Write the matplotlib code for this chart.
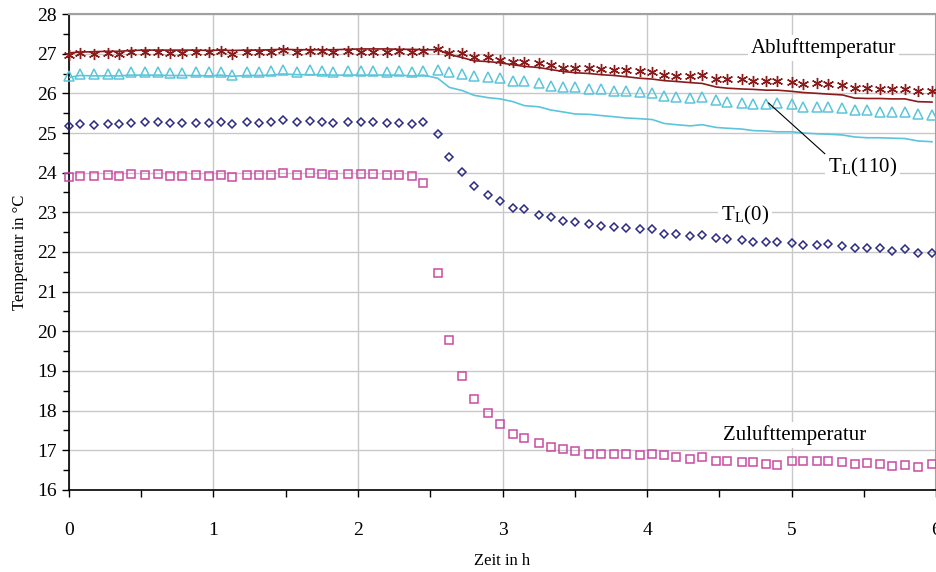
import numpy as np
import matplotlib
matplotlib.use("Agg")
import matplotlib.pyplot as plt
from matplotlib.ticker import MultipleLocator

plt.rcParams['font.family'] = ['Liberation Serif', 'DejaVu Serif']
plt.rcParams['mathtext.fontset'] = 'stix'

# Zeitpunkte in h
zeit = [0.0, 0.076, 0.175, 0.268, 0.348, 0.427, 0.528, 0.616, 0.699, 0.780,
        0.879, 0.969, 1.050, 1.128, 1.230, 1.317, 1.398, 1.479, 1.578, 1.668,
        1.751, 1.830, 1.931, 2.021, 2.102, 2.203, 2.282, 2.372, 2.452, 2.552,
        2.632, 2.722, 2.803, 2.902, 2.983, 3.073, 3.151, 3.253, 3.334, 3.421,
        3.502, 3.601, 3.682, 3.772, 3.853, 3.952, 4.035, 4.120, 4.201, 4.300,
        4.381, 4.478, 4.556, 4.655, 4.736, 4.824, 4.902, 5.003, 5.082, 5.174,
        5.255, 5.352, 5.437, 5.524, 5.612, 5.697, 5.785, 5.875, 5.972]

# Messwerte
abluft = [26.97, 27.01, 26.98, 27.02, 26.99, 27.05, 27.05, 27.05, 27.02, 27.02,
          27.03, 27.03, 27.07, 26.99, 27.05, 27.03, 27.03, 27.09, 27.05, 27.07,
          27.07, 27.03, 27.06, 27.05, 27.05, 27.05, 27.07, 27.03, 27.07, 27.11,
          27.02, 27.02, 26.91, 26.91, 26.84, 26.78, 26.80, 26.77, 26.71, 26.65,
          26.65, 26.63, 26.61, 26.59, 26.59, 26.57, 26.55, 26.46, 26.44, 26.44,
          26.46, 26.35, 26.35, 26.35, 26.32, 26.32, 26.32, 26.29, 26.24, 26.25,
          26.24, 26.21, 26.13, 26.13, 26.10, 26.10, 26.10, 26.07, 26.07]

tl110 = [26.44, 26.50, 26.49, 26.50, 26.49, 26.55, 26.55, 26.55, 26.52, 26.52,
         26.55, 26.55, 26.55, 26.46, 26.55, 26.55, 26.56, 26.59, 26.55, 26.59,
         26.57, 26.53, 26.56, 26.56, 26.56, 26.55, 26.57, 26.53, 26.57, 26.59,
         26.55, 26.50, 26.44, 26.42, 26.38, 26.31, 26.31, 26.25, 26.19, 26.15,
         26.15, 26.11, 26.10, 26.07, 26.07, 26.04, 26.00, 25.93, 25.92, 25.89,
         25.92, 25.83, 25.79, 25.75, 25.73, 25.72, 25.75, 25.72, 25.66, 25.66,
         25.66, 25.62, 25.58, 25.58, 25.54, 25.54, 25.54, 25.48, 25.45]

tl0 = [25.18, 25.23, 25.20, 25.23, 25.22, 25.26, 25.29, 25.27, 25.24, 25.26,
       25.24, 25.24, 25.27, 25.23, 25.27, 25.24, 25.27, 25.33, 25.27, 25.30,
       25.29, 25.24, 25.28, 25.29, 25.29, 25.26, 25.26, 25.23, 25.27, 24.97,
       24.40, 24.01, 23.66, 23.44, 23.29, 23.12, 23.08, 22.93, 22.87, 22.78,
       22.75, 22.71, 22.66, 22.62, 22.60, 22.58, 22.57, 22.45, 22.45, 22.41,
       22.43, 22.35, 22.32, 22.29, 22.24, 22.25, 22.24, 22.22, 22.18, 22.18,
       22.19, 22.15, 22.09, 22.09, 22.09, 22.03, 22.07, 21.97, 21.98]

zuluft = [23.90, 23.92, 23.92, 23.94, 23.92, 23.97, 23.94, 23.97, 23.92, 23.92,
          23.94, 23.92, 23.94, 23.90, 23.94, 23.94, 23.94, 24.00, 23.94, 23.98,
          23.97, 23.94, 23.97, 23.97, 23.97, 23.94, 23.94, 23.92, 23.73, 21.46,
          19.78, 18.88, 18.29, 17.93, 17.66, 17.41, 17.32, 17.19, 17.09, 17.03,
          16.99, 16.91, 16.90, 16.90, 16.90, 16.87, 16.90, 16.88, 16.83, 16.77,
          16.84, 16.74, 16.73, 16.70, 16.70, 16.65, 16.63, 16.73, 16.73, 16.73,
          16.74, 16.70, 16.65, 16.67, 16.65, 16.61, 16.63, 16.57, 16.65]

# Simulation (Linien)
abluft_sim = [27.02, 27.04, 27.05, 27.06, 27.06, 27.08, 27.09, 27.09, 27.09, 27.09,
              27.09, 27.08, 27.09, 27.08, 27.09, 27.09, 27.10, 27.11, 27.10, 27.10,
              27.10, 27.10, 27.11, 27.12, 27.12, 27.12, 27.11, 27.11, 27.10, 27.10,
              26.98, 26.90, 26.82, 26.80, 26.77, 26.72, 26.68, 26.65, 26.60, 26.55,
              26.52, 26.50, 26.47, 26.45, 26.42, 26.38, 26.36, 26.32, 26.30, 26.27,
              26.25, 26.16, 26.13, 26.11, 26.10, 26.08, 26.08, 26.05, 26.02, 26.00,
              25.98, 25.96, 25.88, 25.87, 25.87, 25.86, 25.86, 25.79, 25.78]

tl110_sim = [26.40, 26.45, 26.44, 26.44, 26.44, 26.46, 26.46, 26.46, 26.45, 26.45,
             26.45, 26.44, 26.46, 26.43, 26.45, 26.45, 26.46, 26.49, 26.47, 26.47,
             26.47, 26.46, 26.46, 26.46, 26.46, 26.46, 26.46, 26.44, 26.46, 26.38,
             26.15, 26.07, 25.95, 25.89, 25.86, 25.79, 25.69, 25.66, 25.58, 25.53,
             25.48, 25.47, 25.44, 25.41, 25.38, 25.36, 25.34, 25.24, 25.21, 25.18,
             25.21, 25.14, 25.12, 25.10, 25.06, 25.05, 25.03, 25.03, 25.00, 24.98,
             24.97, 24.95, 24.90, 24.88, 24.88, 24.87, 24.86, 24.80, 24.78]

c_ab = '#8B1A1A'
c_110 = '#5BC5DB'
c_0 = '#2B2B85'
c_zu = '#C94AA2'

fig = plt.figure(figsize=(9.37, 5.72), dpi=100)
ax = fig.add_axes([0.0736, 0.1434, 0.9254, 0.8321])

ax.plot(zeit, abluft_sim, color=c_ab, lw=1.2, zorder=3)
ax.plot(zeit, tl110_sim, color=c_110, lw=1.2, zorder=3)
ax.plot(zeit, abluft, ls='none', marker=(6, 2, 0), ms=8, mew=1.0,
        color=c_ab, zorder=4, clip_on=False)
ax.plot(zeit, tl110, ls='none', marker='^', ms=7.5, mew=1.1,
        mfc='none', mec=c_110, zorder=4, clip_on=False)
ax.plot(zeit, tl0, ls='none', marker='D', ms=4.5, mew=1.1,
        mfc='none', mec=c_0, zorder=4, clip_on=False)
ax.plot(zeit, zuluft, ls='none', marker='s', ms=6, mew=1.1,
        mfc='none', mec=c_zu, zorder=4, clip_on=False)

ax.set_xlim(0, 6)
ax.set_ylim(16, 28)
ax.xaxis.set_major_locator(MultipleLocator(1))
ax.xaxis.set_minor_locator(MultipleLocator(0.5))
ax.yaxis.set_major_locator(MultipleLocator(1))
ax.yaxis.set_minor_locator(MultipleLocator(0.5))
ax.grid(True, which='major', color='#c8c8c8', lw=1.0, zorder=0)
ax.set_axisbelow(True)

ax.tick_params(axis='x', which='major', direction='out', length=5, width=1,
               pad=18, labelsize=14)
ax.tick_params(axis='x', which='minor', direction='out', length=5, width=1)
ax.tick_params(axis='y', which='major', direction='out', length=5, width=1,
               pad=4, labelsize=14)
ax.tick_params(axis='y', which='minor', direction='out', length=4, width=1)

for s in ['left', 'bottom']:
    ax.spines[s].set_color('black')
    ax.spines[s].set_linewidth(1.2)
for s in ['top', 'right']:
    ax.spines[s].set_color('#a0a0a0')
    ax.spines[s].set_linewidth(1.5)

ax.set_xlabel('Zeit in h', fontsize=12, labelpad=10)
ax.set_ylabel('Temperatur in °C', fontsize=12, labelpad=6)

box = dict(facecolor='white', edgecolor='none', pad=2)
ax.text(5.22, 27.14, 'Ablufttemperatur', fontsize=15, ha='center',
        va='center', bbox=box, zorder=5)
ax.text(5.02, 17.39, 'Zulufttemperatur', fontsize=15, ha='center',
        va='center', bbox=box, zorder=5)
ax.text(4.68, 22.93, r'T$_{\mathregular{L}}$(0)', fontsize=15, ha='center',
        va='center', bbox=box, zorder=5)
ax.annotate(r'T$_{\mathregular{L}}$(110)', xy=(4.84, 25.76), xytext=(5.49, 24.12),
            fontsize=15, ha='center', va='center', bbox=box, zorder=5,
            arrowprops=dict(arrowstyle='-', color='black', lw=0.8,
                            relpos=(0.0, 1.0), shrinkA=0, shrinkB=0))

fig.savefig('out.png', dpi=100)
